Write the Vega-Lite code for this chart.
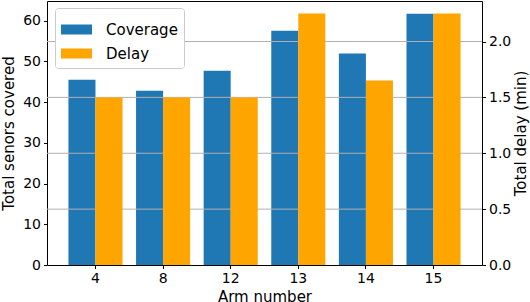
{
  "$schema": "https://vega.github.io/schema/vega-lite/v6.json",
  "autosize": {"type": "none"},
  "width": 435,
  "height": 264,
  "padding": {"left": 47, "top": 1, "right": 48, "bottom": 37},
  "background": "white",
  "data": {
    "values": [
      {"arm": "4", "coverage": 45.5, "delay": 1.5},
      {"arm": "8", "coverage": 42.8, "delay": 1.5},
      {"arm": "12", "coverage": 47.7, "delay": 1.5},
      {"arm": "13", "coverage": 57.5, "delay": 2.25},
      {"arm": "14", "coverage": 51.9, "delay": 1.65},
      {"arm": "15", "coverage": 61.7, "delay": 2.25}
    ]
  },
  "layer": [
    {
      "mark": {"type": "bar"},
      "encoding": {
        "x": {
          "field": "arm", "type": "ordinal", "sort": null,
          "scale": {"paddingInner": 0.2, "paddingOuter": 0.317},
          "axis": {"title": "Arm number", "labelAngle": 0, "titlePadding": 4}
        },
        "xOffset": {"datum": "Coverage", "scale": {"domain": ["Coverage", "Delay"]}},
        "y": {
          "field": "coverage", "type": "quantitative",
          "scale": {"domain": [0, 64.8], "nice": false},
          "axis": {"title": "Total senors covered", "values": [0, 10, 20, 30, 40, 50, 60], "orient": "left", "grid": false}
        },
        "color": {
          "datum": "Coverage",
          "scale": {"domain": ["Coverage", "Delay"], "range": ["#1f77b4", "#ffa500"]},
          "legend": {"title": null}
        }
      }
    },
    {
      "data": {"values": [{"g": 0.5}, {"g": 1.0}, {"g": 1.5}, {"g": 2.0}]},
      "mark": {"type": "rule", "color": "#b0b0b0", "strokeWidth": 1},
      "encoding": {
        "y": {"field": "g", "type": "quantitative", "scale": {"domain": [0, 2.3625], "nice": false}, "axis": null}
      }
    },
    {
      "mark": {"type": "bar"},
      "encoding": {
        "x": {"field": "arm", "type": "ordinal", "sort": null},
        "xOffset": {"datum": "Delay"},
        "y": {
          "field": "delay", "type": "quantitative",
          "scale": {"domain": [0, 2.3625], "nice": false},
          "axis": {"title": "Total delay (min)", "values": [0, 0.5, 1, 1.5, 2], "format": ".1f", "orient": "right", "grid": false, "titleAngle": 270, "titleBaseline": "top", "titlePadding": 3}
        },
        "color": {"datum": "Delay"}
      }
    }
  ],
  "resolve": {"scale": {"y": "independent"}},
  "config": {
    "font": "DejaVu Sans",
    "view": {"stroke": "black", "strokeWidth": 1},
    "axis": {
      "domain": false,
      "ticks": true,
      "tickColor": "black",
      "tickSize": 3.5,
      "tickWidth": 1,
      "labelFont": "DejaVu Sans",
      "labelFontSize": 14,
      "labelColor": "black",
      "labelPadding": 3,
      "titleFont": "DejaVu Sans",
      "titleFontSize": 15,
      "titleFontWeight": "normal",
      "titleColor": "black",
      "titlePadding": 6
    },
    "legend": {
      "orient": "none",
      "legendX": 8,
      "legendY": 7,
      "padding": 6,
      "strokeColor": "#cccccc",
      "fillColor": "white",
      "cornerRadius": 3,
      "symbolType": "M-1,-0.3226H1V0.3226H-1Z",
      "symbolSize": 961,
      "symbolStrokeWidth": 0,
      "symbolOpacity": 1,
      "labelFont": "DejaVu Sans",
      "labelFontSize": 15,
      "labelColor": "black",
      "labelOffset": 14,
      "rowPadding": 0
    }
  }
}
